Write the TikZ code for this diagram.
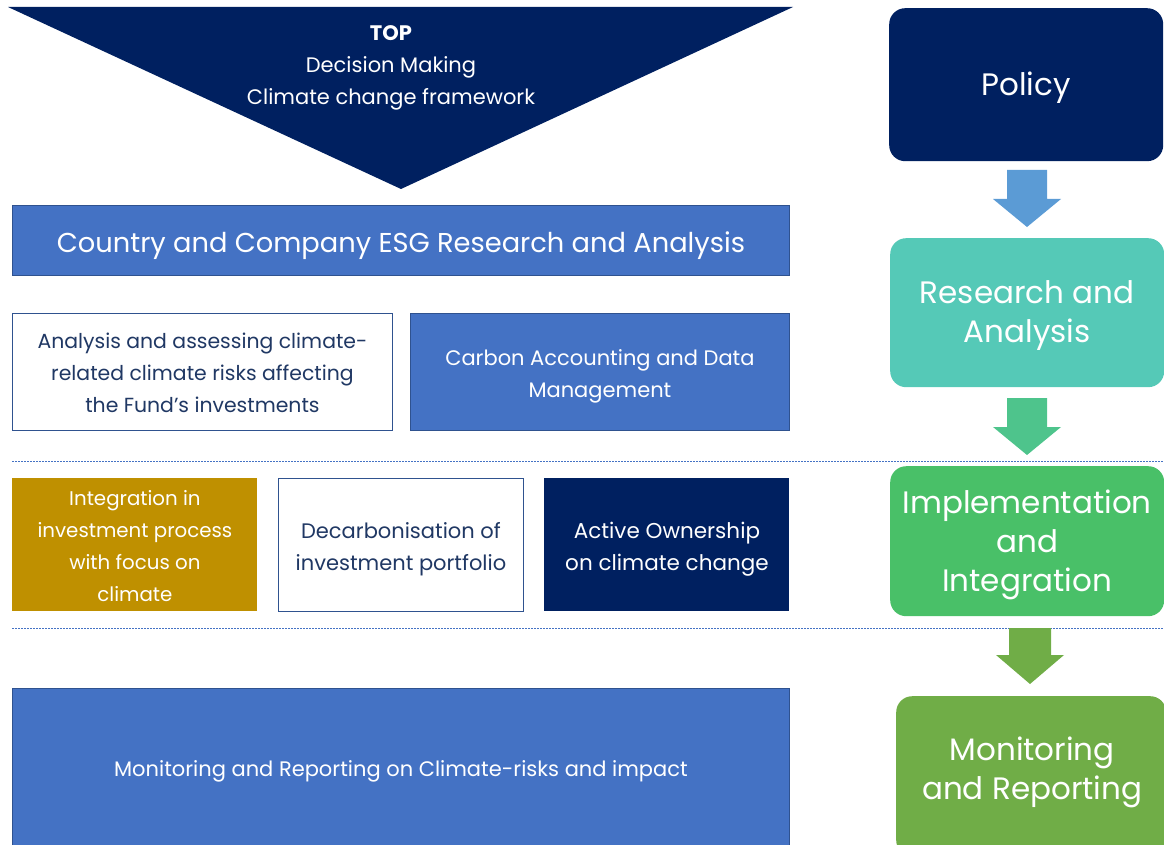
\documentclass[tikz,border=0pt]{standalone}
\usepackage{fontspec}
\setmainfont{Poppins}
\usetikzlibrary{calc}
\definecolor{navy}{HTML}{002060}
\definecolor{midblue}{HTML}{4472C4}
\definecolor{edgeblue}{HTML}{2F528F}
\definecolor{textnavy}{HTML}{203864}
\definecolor{gold}{HTML}{BF9000}
\definecolor{arrowA}{HTML}{5B9BD5}
\definecolor{tealbox}{HTML}{55C9B7}
\definecolor{arrowB}{HTML}{4EC48C}
\definecolor{greenbox}{HTML}{49C068}
\definecolor{olive}{HTML}{70AD47}
\tikzset{
  blk/.style={anchor=north west, inner sep=0pt, line width=0.9pt},
  bluebox/.style={blk, fill=midblue, draw=edgeblue},
  whitebox/.style={blk, fill=white, draw=edgeblue},
  stage/.style={anchor=north west, inner sep=0pt, rounded corners=16pt, minimum width=274pt},
  txt/.style={inner sep=0pt, align=center, text=white},
  dtxt/.style={txt, text=textnavy},
  stagetxt/.style={txt, font=\fontsize{31}{39}\selectfont},
  small/.style={font=\fontsize{21}{32}\selectfont},
  sep/.style={draw=midblue, line width=0.6pt, dash pattern=on 2pt off 1pt}
}
\begin{document}
\begin{tikzpicture}[x=1pt,y=-1pt]
\useasboundingbox (0,0) rectangle (1164,845);
% top triangle
\fill[navy] (8,7) -- (793,7) -- (401,189) -- cycle;
\node[txt, font=\fontsize{21}{32}\selectfont, anchor=north] (top) at (391,25)
  {\textbf{TOP}\\Decision Making\\Climate change framework};
% left column boxes
\node[bluebox, minimum width=777pt, minimum height=70pt] (esg) at (12,205) {};
\node[whitebox, minimum width=380pt, minimum height=117pt] (risk) at (12,313) {};
\node[bluebox, minimum width=379pt, minimum height=117pt] (carbon) at (410,313) {};
\node[blk, fill=gold, minimum width=245pt, minimum height=133pt] (integ) at (12,478) {};
\node[whitebox, minimum width=245pt, minimum height=133pt] (decarb) at (278,478) {};
\node[blk, fill=navy, minimum width=245pt, minimum height=133pt] (active) at (544,478) {};
\node[bluebox, minimum width=777pt, minimum height=160pt] (monrep) at (12,688) {};
% left column texts
\node[txt, font=\fontsize{27.3}{32}\selectfont, yshift=-5pt] (esg-t) at (esg.center)
  {Country and Company ESG Research and Analysis};
\node[dtxt, font=\fontsize{20.4}{32}\selectfont, yshift=-1pt] (risk-t) at (risk.center)
  {Analysis and assessing climate-\\related climate risks affecting\\the Fund’s investments};
\node[txt, small, yshift=-4pt] (carbon-t) at (carbon.center)
  {Carbon Accounting and Data\\Management};
\node[txt, font=\fontsize{19.8}{32}\selectfont, yshift=-1pt] (integ-t) at (integ.center)
  {Integration in\\investment process\\with focus on\\climate};
\node[dtxt, small, yshift=-4pt] (decarb-t) at (decarb.center)
  {Decarbonisation of\\investment portfolio};
\node[txt, font=\fontsize{21.5}{32}\selectfont, yshift=-4pt] (active-t) at (active.center)
  {Active Ownership\\on climate change};
\node[txt, small, yshift=-3pt] (monrep-t) at (monrep.center)
  {Monitoring and Reporting on Climate-risks and impact};
% separators
\coordinate (s1a) at (12,461); \coordinate (s1b) at (1164,461);
\coordinate (s2a) at (12,628); \coordinate (s2b) at (1164,628);
\draw[sep] (s1a) -- (s1b);
\draw[sep] (s2a) -- (s2b);
% right column
\node[stage, fill=navy, minimum height=153pt] (policy) at (889,8) {};
\node[stage, fill=tealbox, minimum height=149pt] (research) at (890,238) {};
\node[stage, fill=greenbox, minimum height=150pt] (impl) at (890,466) {};
\node[stage, fill=olive, minimum height=160pt, minimum width=270pt] (mon) at (896,696) {};
\node[stagetxt, yshift=-3pt] (policy-t) at (policy.center) {Policy};
\node[stagetxt, yshift=-3pt] (research-t) at (research.center) {Research and\\Analysis};
\node[stagetxt, yshift=-4pt] (impl-t) at (impl.center) {Implementation\\and\\Integration};
\node[stagetxt, yshift=4pt, xshift=1pt] (mon-t) at (mon.center) {Monitoring\\and Reporting};
% block arrows
\fill[arrowA] (1007,170) -- (1047,170) -- (1047,199) -- (1061,199) -- (1027,227) -- (993,199) -- (1007,199) -- cycle;
\fill[arrowB] (1007,398) -- (1047,398) -- (1047,427) -- (1061,427) -- (1027,455) -- (993,427) -- (1007,427) -- cycle;
\fill[olive] (1009,628) -- (1051,628) -- (1051,655) -- (1064,655) -- (1030,684) -- (996,655) -- (1009,655) -- cycle;
\end{tikzpicture}
\end{document}
